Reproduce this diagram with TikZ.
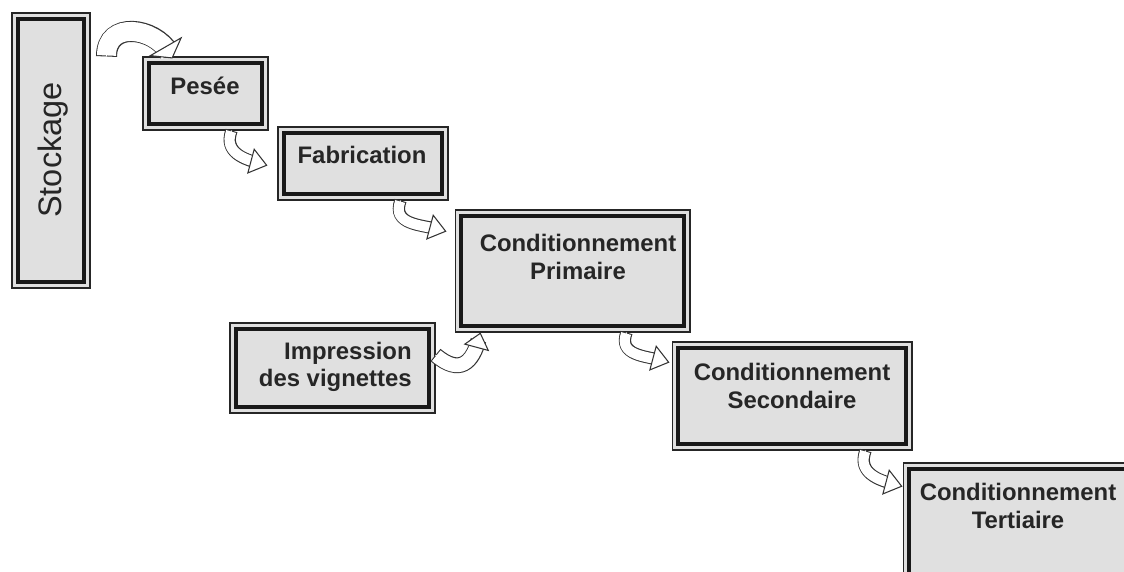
\documentclass[tikz,border=0pt]{standalone}
\usepackage{fontspec}
\setmainfont{Liberation Sans}
\usepackage{tikz}
\usetikzlibrary{arrows.meta}

\begin{document}
\begin{tikzpicture}[x=0.02cm,y=0.02cm,
  box/.style={draw=black!85, line width=0.6pt, fill=boxFill, inner sep=0pt,
    path picture={\draw[black!90, line width=2.5pt]
      ([shift={(3.4pt,-3.4pt)}]path picture bounding box.north west) rectangle
      ([shift={(-3.4pt,3.4pt)}]path picture bounding box.south east);}},
  lbl/.style={font=\bfseries\fontsize{13.6}{15.5}\selectfont, text=black!85, align=center, inner sep=0pt},
  flow/.style n args={3}{
    preaction={-, draw=black!80, line width=#1, shorten >=0.5*#3},
    preaction={-, draw=white, line width=#1-1.2pt, shorten >=0.4*#3, shorten <=0.6pt},
    draw=white, line width=0.6pt,
    -{Triangle[color=black!80, fill=white, width=#2, length=#3]}}]
\definecolor{boxFill}{RGB}{224,224,224}
\path[use as bounding box, clip] (0,0) rectangle (1124,-571);
\fill[white] (0,0) rectangle (1124,-571);
% the boxes
\node[box, minimum width=1.56cm, minimum height=5.5cm] (stock) at (51,-150.5) {};
\node[box, minimum width=2.5cm, minimum height=1.46cm] (pesee) at (205.5,-93.5) {};
\node[box, minimum width=3.4cm, minimum height=1.46cm] (fab) at (363,-163.5) {};
\node[box, minimum width=4.7cm, minimum height=2.44cm] (prim) at (572.5,-271) {};
\node[box, minimum width=4.1cm, minimum height=1.8cm] (imp) at (332.5,-368) {};
\node[box, minimum width=4.8cm, minimum height=2.16cm] (sec) at (792,-396) {};
\node[box, minimum width=5.14cm, minimum height=2.74cm] (tert) at (1031.5,-531.5) {};
% their texts
\node[rotate=90, font=\fontsize{18.5}{20}\selectfont, text=black!85, inner sep=0pt] (stock-t) at (53,-150) {Stockage};
\node[lbl] (pesee-t) at (205,-86) {Pesée};
\node[lbl] (fab-t) at (362,-155) {Fabrication};
\node[lbl] (prim-t) at (578,-257) {Conditionnement\\Primaire};
\node[lbl, align=right, anchor=east] (imp-t) at (412,-367) {Impression\\des vignettes};
\node[lbl] (sec-t) at (792,-386) {Conditionnement\\Secondaire};
\node[lbl] (tert-t) at (1018,-506) {Conditionnement\\Tertiaire};
% the bent arrows
\draw[flow={12pt}{22pt}{8pt}] ([shift={(16,-44)}]stock.north east) to[out=90,in=120,looseness=1.4] ([shift={(-33,-2)}]pesee.north);
\draw[flow={7pt}{15pt}{10pt}] ([shift={(-37,0)}]pesee.south east) to[out=-110,in=165,looseness=1.2] ([shift={(-10,-2)}]fab.west);
\draw[flow={7pt}{15pt}{10pt}] ([shift={(-48,0)}]fab.south east) to[out=-110,in=165,looseness=1.2] ([shift={(-8,-22)}]prim.north west);
\draw[flow={9pt}{15pt}{9pt}] ([shift={(0,13)}]imp.east) to[out=-40,in=-105,looseness=1.6] ([shift={(-92,0)}]prim.south);
\draw[flow={7pt}{15pt}{10pt}] ([shift={(-64,0)}]prim.south east) to[out=-110,in=165,looseness=1.2] ([shift={(-2,-21)}]sec.north west);
\draw[flow={7pt}{15pt}{10pt}] ([shift={(-47,0)}]sec.south east) to[out=-110,in=165,looseness=1.2] ([shift={(0,-24)}]tert.north west);
\end{tikzpicture}
\end{document}
